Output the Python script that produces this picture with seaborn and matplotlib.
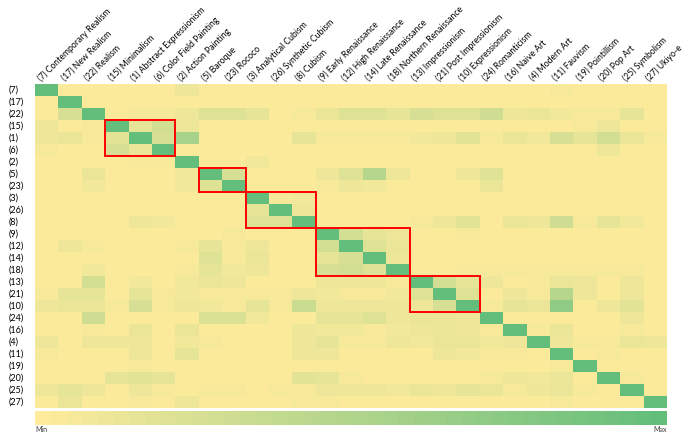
import numpy as np
import pandas as pd
import matplotlib
matplotlib.use("Agg")
import matplotlib.pyplot as plt
from matplotlib.colors import LinearSegmentedColormap
from matplotlib.patches import Rectangle
from matplotlib.transforms import ScaledTranslation
import seaborn as sns

# art movements in the order of the matrix
codes = ["(7)", "(17)", "(22)", "(15)", "(1)", "(6)", "(2)", "(5)", "(23)",
         "(3)", "(26)", "(8)", "(9)", "(12)", "(14)", "(18)", "(13)", "(21)",
         "(10)", "(24)", "(16)", "(4)", "(11)", "(19)", "(20)", "(25)", "(27)"]
names = ["Contemporary Realism", "New Realism", "Realism", "Minimalism",
         "Abstract Expressionism", "Color Field Painting", "Action Painting",
         "Baroque", "Rococo", "Analytical Cubism", "Synthetic Cubism", "Cubism",
         "Early Renaissance", "High Renaissance", "Late Renaissance",
         "Northern Renaissance", "Impressionism", "Post Impressionism",
         "Expressionism", "Romanticism", "Naive Art", "Modern Art", "Fauvism",
         "Pointillism", "Pop Art", "Symbolism", "Ukiyo-e"]

# similarity scores (0 = min, 100 = max), read row by row
scores = [
    [100, 3, 4, 3, 3, 3, 12, 3, 3, 3, 3, 3, 3, 3, 3, 3, 3, 3, 3, 3, 3, 3, 5, 3, 4, 3, 3],
    [3, 100, 3, 3, 3, 3, 3, 3, 3, 3, 3, 3, 3, 3, 3, 3, 3, 3, 3, 3, 3, 3, 3, 3, 3, 3, 3],
    [3, 25, 100, 3, 5, 5, 10, 22, 20, 15, 4, 7, 14, 20, 20, 16, 26, 22, 20, 30, 12, 14, 8, 5, 5, 16, 4],
    [10, 4, 5, 100, 15, 28, 10, 3, 3, 3, 3, 3, 3, 3, 3, 3, 3, 3, 4, 3, 3, 3, 4, 5, 10, 4, 3],
    [12, 14, 5, 18, 100, 25, 55, 3, 3, 3, 3, 15, 6, 6, 5, 6, 8, 12, 18, 5, 14, 8, 25, 15, 28, 14, 5],
    [6, 4, 4, 26, 14, 100, 4, 3, 3, 3, 3, 3, 3, 3, 3, 3, 3, 3, 3, 3, 3, 3, 3, 3, 12, 3, 3],
    [3, 3, 3, 3, 5, 5, 100, 3, 3, 8, 3, 3, 3, 3, 3, 3, 3, 3, 3, 3, 3, 3, 3, 3, 3, 3, 3],
    [3, 3, 14, 3, 3, 3, 8, 100, 25, 3, 3, 3, 10, 20, 45, 12, 4, 3, 12, 20, 3, 3, 3, 3, 3, 3, 3],
    [3, 3, 8, 3, 3, 3, 8, 22, 100, 3, 3, 3, 5, 12, 8, 3, 3, 3, 4, 14, 3, 3, 3, 3, 3, 3, 3],
    [3, 3, 3, 3, 3, 3, 3, 3, 3, 100, 5, 8, 3, 3, 3, 3, 3, 3, 3, 3, 3, 3, 3, 3, 3, 3, 3],
    [3, 3, 3, 3, 3, 3, 3, 3, 3, 15, 100, 12, 3, 3, 3, 3, 3, 3, 3, 3, 3, 3, 3, 3, 3, 3, 3],
    [3, 3, 4, 3, 10, 8, 3, 3, 3, 22, 22, 100, 3, 3, 3, 3, 5, 10, 18, 3, 14, 10, 30, 6, 15, 8, 3],
    [3, 3, 3, 3, 3, 3, 3, 3, 6, 3, 3, 3, 100, 28, 15, 12, 3, 3, 5, 4, 4, 4, 4, 4, 4, 4, 3],
    [3, 10, 5, 3, 3, 3, 7, 15, 7, 10, 3, 3, 28, 100, 22, 14, 3, 3, 3, 3, 3, 3, 3, 3, 3, 3, 3],
    [3, 3, 4, 3, 3, 3, 3, 22, 6, 13, 3, 3, 15, 25, 100, 10, 3, 3, 4, 4, 4, 4, 4, 4, 4, 4, 3],
    [3, 3, 8, 3, 3, 3, 5, 17, 9, 10, 3, 3, 25, 28, 20, 100, 4, 4, 5, 5, 5, 5, 5, 5, 5, 5, 4],
    [3, 3, 28, 3, 8, 3, 8, 13, 12, 4, 3, 3, 10, 12, 10, 6, 100, 28, 15, 10, 4, 6, 14, 10, 3, 10, 3],
    [6, 15, 15, 3, 17, 5, 8, 6, 5, 6, 5, 12, 8, 6, 6, 8, 22, 100, 22, 3, 12, 6, 45, 12, 4, 10, 3],
    [10, 14, 14, 7, 25, 6, 10, 9, 6, 15, 5, 33, 10, 12, 10, 10, 12, 25, 100, 5, 16, 14, 70, 3, 10, 18, 4],
    [3, 3, 30, 3, 3, 3, 3, 24, 24, 8, 3, 3, 16, 15, 20, 10, 14, 14, 10, 100, 4, 4, 4, 3, 3, 10, 3],
    [3, 3, 5, 4, 13, 3, 14, 3, 3, 3, 3, 12, 8, 8, 5, 8, 10, 14, 12, 6, 100, 6, 14, 3, 3, 6, 3],
    [10, 3, 12, 10, 12, 3, 8, 6, 3, 3, 3, 10, 16, 6, 6, 10, 8, 14, 14, 8, 12, 100, 12, 6, 5, 14, 10],
    [6, 3, 3, 3, 12, 3, 16, 3, 3, 3, 3, 12, 12, 3, 3, 3, 3, 10, 8, 5, 6, 4, 100, 4, 6, 3, 3],
    [3, 3, 3, 3, 5, 3, 3, 3, 3, 3, 3, 3, 3, 3, 3, 3, 3, 3, 3, 3, 3, 3, 5, 100, 3, 3, 3],
    [3, 3, 3, 16, 19, 15, 3, 3, 3, 3, 3, 18, 15, 6, 3, 3, 3, 3, 3, 5, 10, 8, 14, 3, 100, 6, 3],
    [10, 15, 12, 3, 12, 6, 3, 6, 6, 3, 5, 6, 10, 10, 10, 8, 14, 10, 16, 14, 6, 10, 14, 5, 3, 100, 4],
    [3, 14, 3, 3, 6, 3, 12, 3, 3, 3, 3, 5, 5, 3, 3, 3, 3, 3, 3, 3, 3, 3, 6, 3, 3, 3, 100],
]

# highlighted clusters: (first movement, last movement)
clusters = [("(15)", "(6)"), ("(5)", "(23)"), ("(3)", "(8)"),
            ("(9)", "(18)"), ("(13)", "(10)")]

col_labels = [f"{c} {n}" for c, n in zip(codes, names)]
df = pd.DataFrame(scores, index=codes, columns=col_labels)

plt.rcParams["font.family"] = ["Lato", "DejaVu Sans"]
cmap = LinearSegmentedColormap.from_list("yg", ["#FEEB9B", "#63BE7B"], N=40)

W, H = 685, 433
fig = plt.figure(figsize=(W / 100, H / 100), dpi=100)
ax = fig.add_axes([35 / W, 1 - 408 / H, 632 / W, 324 / H])
cax = fig.add_axes([35 / W, 1 - 425 / H, 632 / W, 14 / H])

sns.heatmap(df, ax=ax, cbar_ax=cax, cmap=cmap, vmin=0, vmax=100,
            xticklabels=True, yticklabels=True,
            cbar_kws={"orientation": "horizontal"})

# column labels on top, slanted
ax.xaxis.tick_top()
ax.tick_params(axis="x", length=0, pad=1, labelsize=6.2)
shift = ScaledTranslation(-4 / 100, 0, fig.dpi_scale_trans)
for lab in ax.get_xticklabels():
    lab.set_rotation(45)
    lab.set_ha("left")
    lab.set_va("bottom")
    lab.set_rotation_mode("anchor")
    lab.set_transform(lab.get_transform() + shift)
ax.tick_params(axis="y", length=0, pad=19, labelsize=6.5)
plt.setp(ax.get_yticklabels(), rotation=0, ha="left")
ax.set_xlabel("")
ax.set_ylabel("")

for first, last in clusters:
    i0 = codes.index(first)
    i1 = codes.index(last) + 1
    ax.add_patch(Rectangle((i0, i0), i1 - i0, i1 - i0, fill=False,
                           edgecolor="#FF0000", lw=1.4, clip_on=False))

# colour scale legend
cbar = ax.collections[0].colorbar
cbar.outline.set_visible(False)
cbar.set_ticks([0, 100])
cbar.set_ticklabels(["Min", "Max"])
cax.tick_params(length=0, pad=1, labelsize=5, labelcolor="#404040")
tl = cax.get_xticklabels()
tl[0].set_ha("left")
tl[1].set_ha("right")

fig.savefig("out.png", dpi=100)
